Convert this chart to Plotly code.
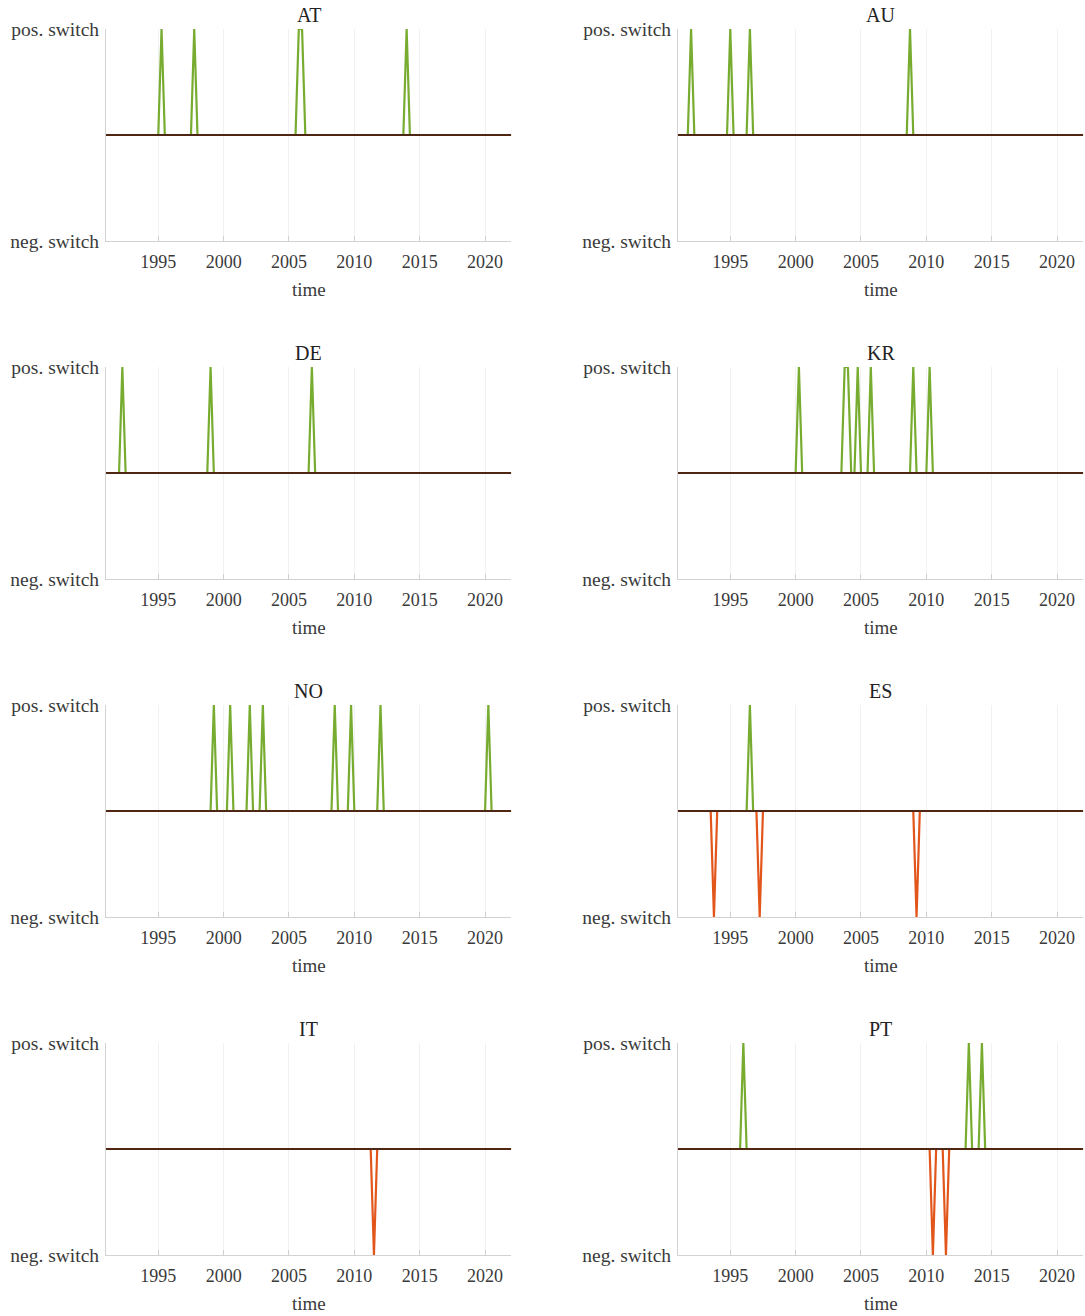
import plotly.graph_objects as go

# ---- data (decimal years of quarterly switch events) ----
countries = ["AT", "AU", "DE", "KR", "NO", "ES", "IT", "PT"]
pos_AT = [1995.25, 1997.75, 2005.75, 2006.0, 2014.0]
neg_AT = []
pos_AU = [1992.0, 1995.0, 1996.5, 2008.75]
neg_AU = []
pos_DE = [1992.25, 1999.0, 2006.75]
neg_DE = []
pos_KR = [2000.25, 2003.75, 2004.0, 2004.75, 2005.75, 2009.0, 2010.25]
neg_KR = []
pos_NO = [1999.25, 2000.5, 2002.0, 2003.0, 2008.5, 2009.75, 2012.0, 2020.25]
neg_NO = []
pos_ES = [1996.5]
neg_ES = [1993.75, 1997.25, 2009.25]
pos_IT = []
neg_IT = [2011.5]
pos_PT = [1996.0, 2013.25, 2014.25]
neg_PT = [2010.5, 2011.5]

pos_events = [pos_AT, pos_AU, pos_DE, pos_KR, pos_NO, pos_ES, pos_IT, pos_PT]
neg_events = [neg_AT, neg_AU, neg_DE, neg_KR, neg_NO, neg_ES, neg_IT, neg_PT]

first_quarter = 1991.0
n_quarters = 125  # 1991Q1 .. 2022Q1
tick_years = [1995, 2000, 2005, 2010, 2015, 2020]
y_ticktext = ["neg. switch", "pos. switch"]

quarters = [first_quarter + 0.25 * i for i in range(n_quarters)]

GREEN = "#77AC30"
RED = "#E2561B"
BROWN = "#4E2611"
TXT = "#3a3a3a"
FONT = "Liberation Serif"

W, H = 1085, 1316
col_px = [(106, 511.2), (678, 1083.2)]
row_top = [29, 367, 705, 1043]
plot_h = 212

fig = go.Figure()
annotations = []

for i, c in enumerate(countries):
    r, col = divmod(i, 2)
    x0, x1 = col_px[col]
    top = row_top[r]
    bot = top + plot_h
    dom_x = [x0 / W, x1 / W]
    dom_y = [1 - bot / H, 1 - top / H]
    k = "" if i == 0 else str(i + 1)
    xa, ya = "x" + k, "y" + k
    pset = set(pos_events[i])
    nset = set(neg_events[i])
    pos_y = [1 if q in pset else 0 for q in quarters]
    neg_y = [-1 if q in nset else 0 for q in quarters]
    zero_y = [0 for q in quarters]
    fig.add_trace(go.Scatter(x=quarters, y=neg_y, mode="lines",
                             line=dict(color=RED, width=2.2), xaxis=xa, yaxis=ya,
                             showlegend=False))
    fig.add_trace(go.Scatter(x=quarters, y=pos_y, mode="lines",
                             line=dict(color=GREEN, width=2.2), xaxis=xa, yaxis=ya,
                             showlegend=False))
    fig.add_trace(go.Scatter(x=quarters, y=zero_y, mode="lines",
                             line=dict(color=BROWN, width=2.2), xaxis=xa, yaxis=ya,
                             showlegend=False))
    fig.update_layout(**{
        ("xaxis" + k): dict(domain=dom_x, anchor=ya, range=[1991, 2022],
                            tickvals=tick_years, ticks="inside", ticklen=5,
                            tickcolor="#cfcfcf", showline=True, linecolor="#d2d2d2",
                            linewidth=1, showgrid=True, gridcolor="#f1f1f1",
                            zeroline=False, automargin=False,
                            tickfont=dict(family=FONT, size=18, color=TXT),
                            ticklabelstandoff=4),
        ("yaxis" + k): dict(domain=dom_y, anchor=xa, range=[-1, 1],
                            tickvals=[-1, 1], ticktext=y_ticktext, ticks="inside",
                            ticklen=5, tickcolor="#cfcfcf", showline=True,
                            linecolor="#d2d2d2", linewidth=1, showgrid=True,
                            gridcolor="#f1f1f1", zeroline=False, automargin=False,
                            tickfont=dict(family=FONT, size=19.5, color=TXT),
                            ticklabelstandoff=2),
    })
    cx = (x0 + x1) / 2 / W
    annotations.append(dict(text=c, x=cx, y=1 - (top - 14) / H, xref="paper",
                            yref="paper", xanchor="center", yanchor="middle",
                            showarrow=False, font=dict(family=FONT, size=20, color="#222")))
    annotations.append(dict(text="time", x=cx, y=1 - (bot + 48) / H, xref="paper",
                            yref="paper", xanchor="center", yanchor="middle",
                            showarrow=False, font=dict(family=FONT, size=19, color=TXT)))

fig.update_layout(width=W, height=H, margin=dict(l=0, r=0, t=0, b=0, autoexpand=False),
                  plot_bgcolor="white", paper_bgcolor="white",
                  annotations=annotations)
fig.write_html("out.html", config={"displayModeBar": False},
               post_script="document.body.style.margin='0';"
                           "document.body.style.overflow='hidden';")
